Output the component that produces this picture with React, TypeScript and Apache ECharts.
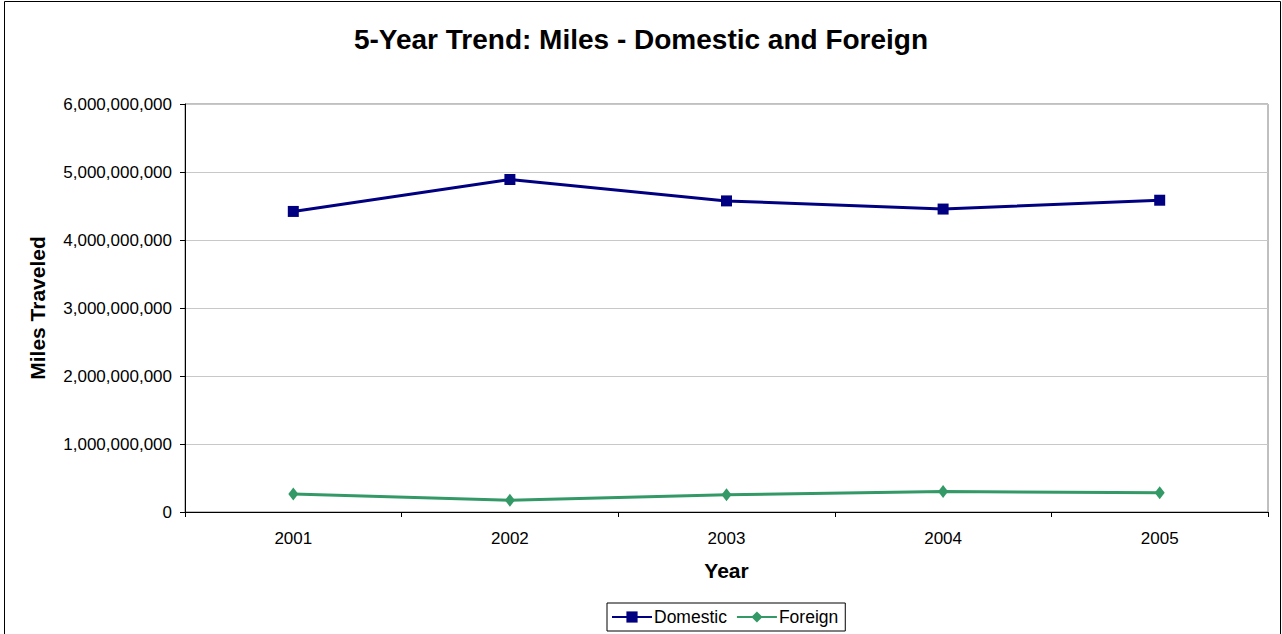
import React, { useEffect, useRef } from "react";
import * as echarts from "echarts";

const years = ["2001", "2002", "2003", "2004", "2005"];
const domestic = [4420000000, 4890000000, 4575000000, 4455000000, 4585000000];
const foreign = [265000000, 172000000, 254000000, 300000000, 282000000];
const yTicks = { min: 0, max: 6000000000, interval: 1000000000 };

const FONT = "'Liberation Sans', Arial, sans-serif";

function fmt(v: number) {
  return String(Math.round(v)).replace(/\B(?=(\d{3})+(?!\d))/g, ",");
}

export default function App() {
  const ref = useRef<HTMLDivElement>(null);
  useEffect(() => {
    document.body.style.margin = "0";
    const chart = echarts.init(ref.current!, null, { renderer: "svg" });
    chart.setOption({
      animation: false,
      backgroundColor: "#ffffff",
      textStyle: { fontFamily: FONT },
      title: {
        text: "5-Year Trend: Miles - Domestic and Foreign",
        left: "center",
        top: 20,
        textStyle: { fontSize: 28, fontWeight: "bold", color: "#000", fontFamily: FONT },
      },
      graphic: [
        {
          type: "rect",
          shape: { x: 4.5, y: 1.5, width: 1276, height: 660 },
          style: { fill: "none", stroke: "#000", lineWidth: 1 },
          silent: true,
        },
      ],
      legend: {
        left: 607,
        top: 603,
        padding: [5, 7, 5, 4],
        borderColor: "#000",
        borderWidth: 1,
        itemWidth: 40,
        itemHeight: 14,
        itemGap: 9,
        textStyle: { fontSize: 17.5, color: "#000", fontFamily: FONT, padding: [0, 0, 0, -3] },
        data: ["Domestic", "Foreign"],
      },
      grid: {
        left: 185,
        top: 104,
        right: 14,
        bottom: 122,
        show: true,
        borderColor: "#808080",
        borderWidth: 1,
      },
      xAxis: {
        type: "category",
        data: years,
        boundaryGap: true,
        name: "Year",
        nameLocation: "middle",
        nameGap: 48,
        nameTextStyle: { fontSize: 21, fontWeight: "bold", color: "#000", fontFamily: FONT },
        axisLine: { lineStyle: { color: "#000", width: 1 } },
        axisTick: { show: true, length: 5, lineStyle: { color: "#000" } },
        axisLabel: { fontSize: 17, color: "#000", margin: 18, fontFamily: FONT },
      },
      yAxis: {
        type: "value",
        min: yTicks.min,
        max: yTicks.max,
        interval: yTicks.interval,
        name: "Miles Traveled",
        nameLocation: "middle",
        nameGap: 137,
        nameRotate: 90,
        nameTextStyle: { fontSize: 21, fontWeight: "bold", color: "#000", fontFamily: FONT },
        axisLine: { show: true, lineStyle: { color: "#000", width: 1 } },
        axisTick: { show: true, length: 5, lineStyle: { color: "#000" } },
        axisLabel: { fontSize: 17, color: "#000", margin: 13, formatter: (v: number) => fmt(v), fontFamily: FONT },
        splitLine: { show: true, lineStyle: { color: "#c8c8c8", width: 1 } },
      },
      series: [
        {
          name: "Domestic",
          type: "line",
          data: domestic,
          color: "#000080",
          lineStyle: { width: 3, color: "#000080" },
          symbol: "rect",
          symbolSize: 11,
          itemStyle: { color: "#000080" },
        },
        {
          name: "Foreign",
          type: "line",
          data: foreign,
          color: "#339966",
          lineStyle: { width: 3, color: "#339966" },
          symbol: "diamond",
          symbolSize: [10, 13],
          itemStyle: { color: "#339966" },
        },
      ],
    });
    return () => chart.dispose();
  }, []);
  return <div ref={ref} style={{ width: 1282, height: 634 }} />;
}
